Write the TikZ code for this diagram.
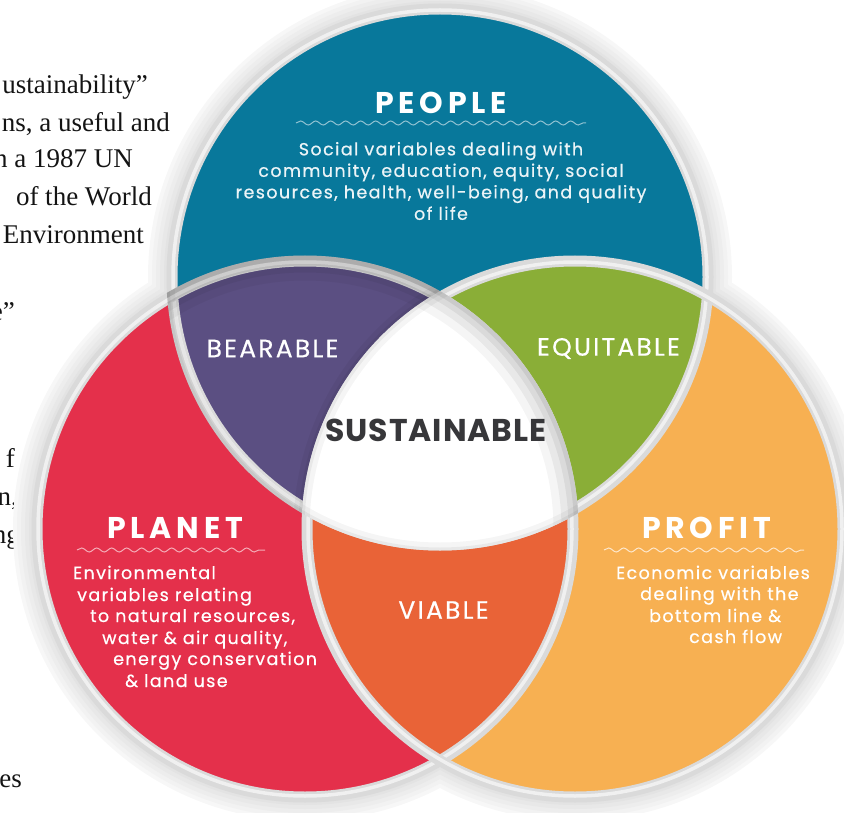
\documentclass[tikz,border=0pt]{standalone}
\usepackage{fontspec}
\setmainfont{Liberation Serif}
\newfontfamily\popT[LetterSpace=16]{Poppins}
\newfontfamily\popB[LetterSpace=8,FakeBold=0.6]{Poppins}
\newfontfamily\popM[LetterSpace=9,FakeBold=0.5]{Poppins}
\newfontfamily\popS[LetterSpace=3]{Poppins}
\usetikzlibrary{decorations.pathmorphing}
\definecolor{cPeople}{RGB}{8,120,155}
\definecolor{cPlanet}{RGB}{228,48,75}
\definecolor{cProfit}{RGB}{247,176,82}
\definecolor{cBear}{RGB}{91,79,130}
\definecolor{cEq}{RGB}{138,174,55}
\definecolor{cVia}{RGB}{233,99,55}
\definecolor{cBand}{RGB}{218,218,218}
\definecolor{cBandHi}{RGB}{240,240,240}
\definecolor{cDark}{RGB}{55,55,58}
\tikzset{
 serif/.style={font=\fontsize{27}{27}\selectfont, anchor=base east, inner sep=0pt, text=black!92},
 title/.style={font=\popT\bfseries\fontsize{30}{30}\selectfont, text=white, inner sep=0pt},
 body/.style={font=\popB\fontsize{17.5}{21.5}\selectfont, text=white, inner sep=0pt, anchor=base west},
 pbody/.style={font=\popB\fontsize{17.5}{21.5}\selectfont, text=white!92!cPeople, inner sep=0pt, align=center},
 region/.style={font=\popM\fontsize{25}{25}\selectfont, text=white, inner sep=0pt},
 wave/.style={decorate, decoration={snake, segment length=15pt, amplitude=2pt}, line width=1pt},
 band/.style={line width=11pt, draw=cBand},
 bandhi/.style={line width=3.5pt, draw=cBandHi},
}
\begin{document}
\begin{tikzpicture}[x=1pt,y=-1pt]
\useasboundingbox (0,0) rectangle (844,813);
% text fragments on the left
\node[serif] (s1) at (148,94) {ustainability”};
\node[serif] (s2) at (170,132) {ns, a useful and};
\node[serif] (s3) at (133,168) {n a 1987 UN};
\node[serif] (s4) at (152,206) {of the World};
\node[serif] (s5) at (144,244) {Environment};
\node[serif] (s6) at (15,320) {e”};
\node[serif] (s7) at (15,467) {f};
\node[serif] (s8) at (18,505) {n,};
\node[serif] (s9) at (20,543) {ng};
\node[serif] (s10) at (22,787) {es};
% circle centres
\coordinate (pe) at (440,277);
\coordinate (pl) at (305,529);
\coordinate (pr) at (575,529);
% soft halo
\foreach \rr/\cc in {24/3,20/5,16/7,12/9,8/11,5/13}{
  \fill[black!\cc] (pe) circle[radius=268pt+\rr pt] (pl) circle[radius=268pt+\rr pt] (pr) circle[radius=268pt+\rr pt];
}
% coloured regions
\fill[cPeople] (pe) circle[radius=268pt];
\fill[cPlanet] (pl) circle[radius=268pt];
\fill[cProfit] (pr) circle[radius=268pt];
\begin{scope}
  \clip (pe) circle[radius=268pt];
  \fill[cBear] (pl) circle[radius=268pt];
  \fill[cEq] (pr) circle[radius=268pt];
\end{scope}
\begin{scope}
  \clip (pl) circle[radius=268pt];
  \fill[cVia] (pr) circle[radius=268pt];
\end{scope}
% separating bands
\foreach \cc in {pe,pl,pr}{
  \draw[band] (\cc) circle[radius=268pt];
  \draw[bandhi] (\cc) circle[radius=267pt];
}
% white centre with inner shading
\begin{scope}
  \clip (pe) circle[radius=273.5pt];
  \clip (pl) circle[radius=273.5pt];
  \fill[white] (pr) circle[radius=273.5pt];
  \foreach \w/\o in {50/0.04,34/0.05,20/0.06,9/0.07}
    \draw[line width=\w pt, black, opacity=\o] (pl) circle[radius=273.5pt];
  \foreach \w/\o in {16/0.04,6/0.05}{
    \draw[line width=\w pt, black, opacity=\o] (pe) circle[radius=273.5pt];
    \draw[line width=\w pt, black, opacity=\o] (pr) circle[radius=273.5pt];
  }
\end{scope}
% PEOPLE
\node[title] (tpe) at (441,102.5) {PEOPLE};
\coordinate (wpe1) at (296,123);
\coordinate (wpe2) at (586,123);
\draw[wave, draw=white!55!cPeople] (wpe1) -- (wpe2);
\node[pbody] (bpe) at (441,181) {Social variables dealing with\\community, education, equity, social\\resources, health, well-being, and quality\\of life};
% PLANET
\node[title] (tpl) at (175,528) {PLANET};
\coordinate (wpl1) at (77,550);
\coordinate (wpl2) at (265,550);
\draw[wave, draw=white!60!cPlanet] (wpl1) -- (wpl2);
\node[body] (bpl1) at (73,579) {Environmental};
\node[body] (bpl2) at (77,601) {variables relating};
\node[body] (bpl3) at (90,622) {to natural resources,};
\node[body] (bpl4) at (102,644) {water \& air quality,};
\node[body] (bpl5) at (113,665) {energy conservation};
\node[body] (bpl6) at (125,687) {\& land use};
% PROFIT
\node[title] (tpr) at (706.5,527.5) {PROFIT};
\coordinate (wpr1) at (604,550);
\coordinate (wpr2) at (804,550);
\draw[wave, draw=white!70!cProfit] (wpr1) -- (wpr2);
\node[body] (bpr1) at (616,579) {Economic variables};
\node[body] (bpr2) at (640,600) {dealing with the};
\node[body] (bpr3) at (649,622) {bottom line \&};
\node[body] (bpr4) at (689,643) {cash flow};
% overlaps
\node[region] (bear) at (272.5,348.5) {BEARABLE};
\node[region] (equi) at (608.5,348.5) {EQUITABLE};
\node[region] (viab) at (443.5,610) {VIABLE};
\node[font=\popS\bfseries\fontsize{31.5}{31.5}\selectfont, text=cDark, inner sep=0pt] (sust) at (436,430) {SUSTAINABLE};
\end{tikzpicture}
\end{document}
